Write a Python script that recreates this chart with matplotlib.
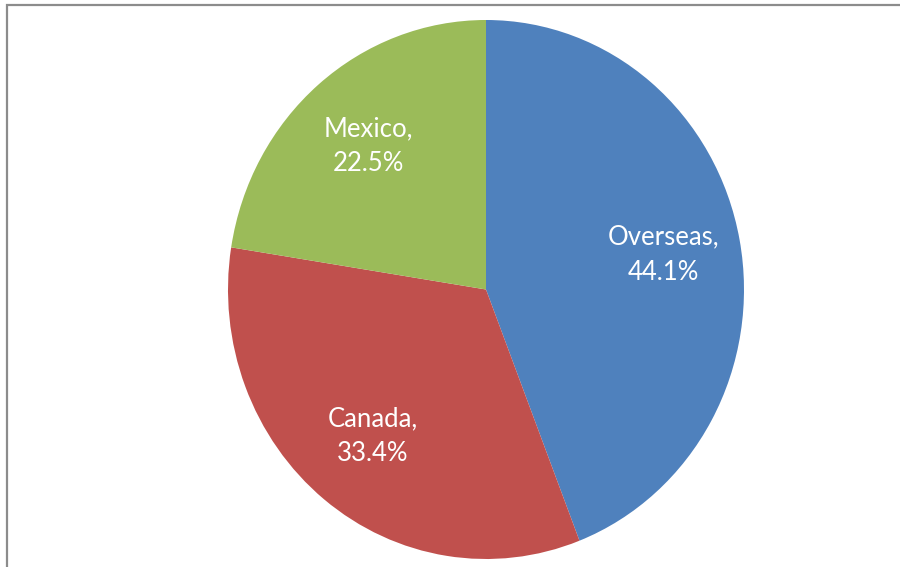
import matplotlib.pyplot as plt
from matplotlib.patches import Rectangle

# data
regions = ['Overseas', 'Canada', 'Mexico']
shares = [44.1, 33.4, 22.5]
colors = ['#4F81BD', '#C0504D', '#9BBB59']

W, H = 900, 567
fig = plt.figure(figsize=(W / 100, H / 100), dpi=100)

# chart area border (right and bottom edges fall outside the image)
fig.patches.append(Rectangle((7 / W, -0.1), 1.2, 1 - 5 / H + 0.1, transform=fig.transFigure,
                             fill=False, edgecolor='#8c8c8c', linewidth=1.6, zorder=0))

# pie is slightly taller than wide in the reference
ax = fig.add_axes([228 / W, 1 - 559 / H, 516 / W, 539 / H])
labels = [f'{r},\n{s}%' for r, s in zip(regions, shares)]
wedges, texts = ax.pie(shares, labels=labels, colors=colors, startangle=90, counterclock=False,
                       labeldistance=0.7, textprops=dict(color='white', fontsize=18.5, family='Lato',
                                                         linespacing=1.5))
for t in texts:
    t.set_horizontalalignment('center')
    t.set_verticalalignment('center')
ax.set_aspect('auto')
ax.set_xlim(-1, 1)
ax.set_ylim(-1, 1)
ax.axis('off')

fig.savefig('out.png', dpi=100)
